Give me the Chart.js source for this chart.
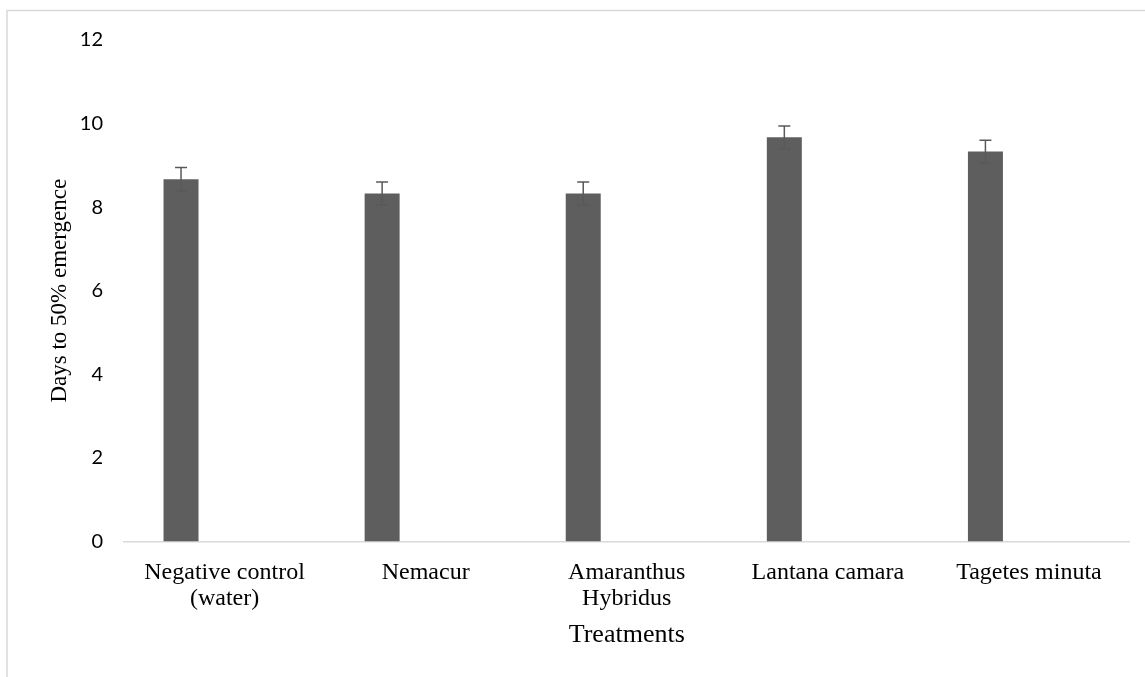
<!DOCTYPE html>
<html>
<head>
<meta charset="utf-8">
<script src="https://cdn.jsdelivr.net/npm/chart.js@4.4.1/dist/chart.umd.min.js"></script>
<style>
  html, body { margin: 0; padding: 0; background: #fff; }
  #wrap { position: relative; width: 1145px; height: 677px; }
</style>
</head>
<body>
<div id="wrap"><canvas id="chart"></canvas></div>
<script>
// Datos
const treatments = [['Negative control', '(water)'], 'Nemacur', ['Amaranthus', 'Hybridus'], 'Lantana camara', 'Tagetes minuta'];
const daysTo50 = [8.67, 8.33, 8.33, 9.67, 9.33];
const stdErr = [0.28, 0.27, 0.27, 0.27, 0.27];
const yTicks = [0, 2, 4, 6, 8, 10, 12];

const barColor = '#5e5e5e';
const lineGray = '#d9d9d9';

// marco gris (solo arriba e izquierda visibles)
const framePlugin = {
  id: 'frame',
  beforeDraw(chart) {
    const ctx = chart.ctx;
    ctx.save();
    ctx.strokeStyle = lineGray;
    ctx.lineWidth = 1.5;
    ctx.beginPath();
    ctx.moveTo(7, 677);
    ctx.lineTo(7, 10.5);
    ctx.lineTo(1145, 10.5);
    ctx.stroke();
    ctx.restore();
  }
};

// barras de error
const errorBarPlugin = {
  id: 'errorBars',
  afterDatasetsDraw(chart) {
    const ctx = chart.ctx;
    const yScale = chart.scales.y;
    const meta = chart.getDatasetMeta(0);
    ctx.save();
    ctx.strokeStyle = '#595959';
    ctx.lineWidth = 1.5;
    meta.data.forEach((bar, i) => {
      const v = daysTo50[i];
      const e = stdErr[i];
      const top = yScale.getPixelForValue(v + e);
      const bottom = yScale.getPixelForValue(v - e);
      const x = bar.x;
      ctx.beginPath();
      ctx.moveTo(x, top);
      ctx.lineTo(x, bottom);
      ctx.moveTo(x - 6, top);
      ctx.lineTo(x + 6, top);
      ctx.moveTo(x - 6, bottom);
      ctx.lineTo(x + 6, bottom);
      ctx.stroke();
    });
    ctx.restore();
  }
};

const ctx = document.getElementById('chart').getContext('2d');
new Chart(ctx, {
  type: 'bar',
  data: {
    labels: treatments,
    datasets: [
      {
        label: 'Days to 50% emergence',
        data: daysTo50,
        backgroundColor: barColor,
        borderWidth: 0,
        categoryPercentage: 0.8657,
        barPercentage: 0.402
      },
      {
        // serie vacía (como en el original de Excel)
        label: '',
        data: treatments.map(() => null),
        backgroundColor: barColor,
        categoryPercentage: 0.8657,
        barPercentage: 0.402
      }
    ]
  },
  options: {
    responsive: true,
    maintainAspectRatio: false,
    animation: false,
    layout: { padding: { left: 46, right: 15.5, top: 40, bottom: 28 } },
    plugins: {
      legend: { display: false },
      tooltip: { enabled: false }
    },
    scales: {
      x: {
        grid: { display: false, drawTicks: false },
        border: { display: true, color: lineGray, width: 1.5 },
        ticks: {
          color: '#000',
          padding: 18,
          maxRotation: 0,
          autoSkip: false,
          font: { family: '"Liberation Serif", "Times New Roman", serif', size: 24, lineHeight: 1.1 }
        },
        title: {
          display: true,
          text: 'Treatments',
          color: '#000',
          padding: { top: 0, bottom: 0 },
          font: { family: '"Liberation Serif", "Times New Roman", serif', size: 26, lineHeight: 1.1 }
        },
        afterFit(scale) { scale.height = 677 - 28 - 541.5; }
      },
      y: {
        min: 0,
        max: 12,
        afterBuildTicks(scale) { scale.ticks = yTicks.map(v => ({ value: v })); },
        grid: { display: false, drawTicks: false },
        border: { display: false },
        ticks: {
          color: '#000',
          padding: 21,
          font: { family: 'Lato, "Open Sans", sans-serif', size: 20 }
        },
        title: {
          display: true,
          text: 'Days to 50% emergence',
          color: '#000',
          padding: { top: 0, bottom: 0 },
          font: { family: '"Liberation Serif", "Times New Roman", serif', size: 23, lineHeight: 1.2 }
        },
        afterFit(scale) { scale.width = 78; }
      }
    }
  },
  plugins: [framePlugin, errorBarPlugin]
});
</script>
</body>
</html>
